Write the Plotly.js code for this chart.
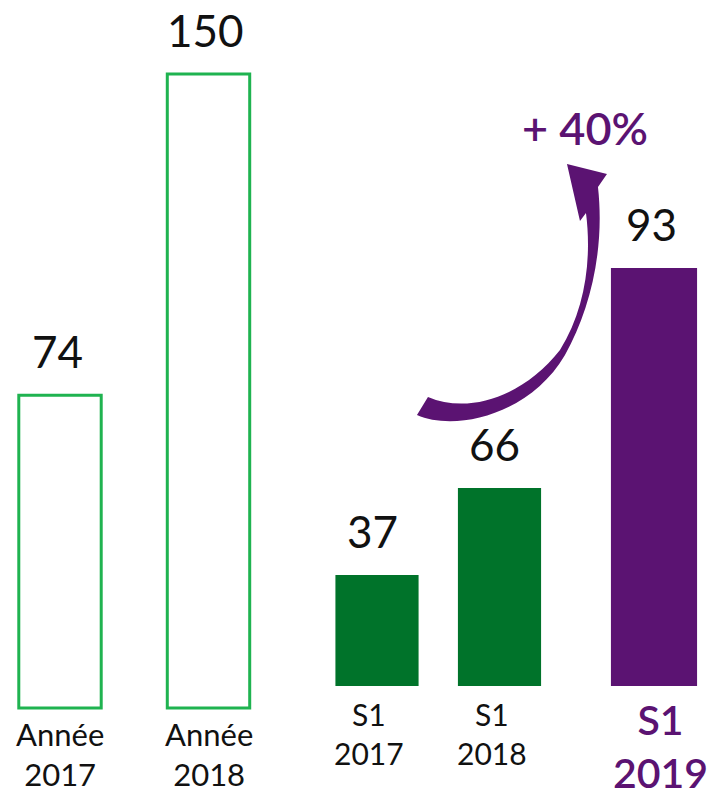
<!DOCTYPE html>
<html>
<head>
<meta charset="utf-8">
<script src="https://cdn.plot.ly/plotly-3.0.1.min.js"></script>
<style>
  html, body { margin: 0; padding: 0; background: #ffffff; }
  #chart { width: 714px; height: 796px; }
</style>
</head>
<body>
<div id="chart"></div>
<script>
// ---- data ----
const annualCats = ['Année 2017', 'Année 2018'];
const annualValues = [74, 150];
const halfCats = ['S1 2017', 'S1 2018'];
const halfValues = [37, 66];
const highlightCats = ['S1 2019'];
const highlightValues = [93];
const growthLabel = '+ 40%';

// ---- styling / layout ----
const W = 714, H = 796;
const FONT = 'Lato, "Open Sans", sans-serif';
const GREEN_LINE = '#1fb350';
const GREEN_DARK = '#00732a';
const PURPLE = '#5b1372';
const allCats = annualCats.concat(halfCats, highlightCats);
const UNIT_PX = 148.5;              // pixels per category slot
const HALF_SHIFT_PX = [20, -6];     // small visual nudges of the S1 green bars
const HALF_WIDTH = 0.56;

function rangeFor(zeroPx, pxPerUnit) {
  return [-(H - zeroPx) / pxPerUnit, zeroPx / pxPerUnit];
}

const traces = [
  {
    type: 'bar', x: annualCats, y: annualValues, xaxis: 'x', yaxis: 'y',
    width: 0.555,
    marker: { color: '#ffffff', line: { color: GREEN_LINE, width: 3 } },
    hoverinfo: 'skip'
  },
  {
    type: 'bar', x: halfCats, y: halfValues, xaxis: 'x', yaxis: 'y2',
    width: HALF_WIDTH,
    offset: HALF_SHIFT_PX.map(s => -HALF_WIDTH / 2 + s / UNIT_PX),
    marker: { color: GREEN_DARK, line: { width: 0 } },
    hoverinfo: 'skip'
  },
  {
    type: 'bar', x: highlightCats, y: highlightValues, xaxis: 'x', yaxis: 'y3',
    width: 0.58,
    marker: { color: PURPLE, line: { width: 0 } },
    hoverinfo: 'skip'
  }
];

const annotations = [];
function addValueLabels(cats, vals, yref, shifts) {
  cats.forEach((c, i) => {
    annotations.push({
      x: c, y: vals[i], xref: 'x', yref: yref,
      text: String(vals[i]), showarrow: false,
      xanchor: 'center', yanchor: 'bottom', yshift: 16,
      xshift: shifts ? shifts[i] - 5 : -3,
      font: { family: FONT, size: 44, color: '#111111' }
    });
  });
}
function addCatLabels(cats, yref, size, color, weight, yshift, shifts) {
  cats.forEach((c, i) => {
    annotations.push({
      x: c, y: 0, xref: 'x', yref: yref,
      text: c.replace(' ', '<br>'), showarrow: false,
      xanchor: 'center', yanchor: 'top', yshift: yshift,
      xshift: shifts ? shifts[i] - 8 : 0,
      font: { family: FONT, size: size, color: color, weight: weight }
    });
  });
}
addValueLabels(annualCats, annualValues, 'y', null);
addValueLabels(halfCats, halfValues, 'y2', HALF_SHIFT_PX);
addValueLabels(highlightCats, highlightValues, 'y3', null);
addCatLabels(annualCats, 'y', 31, '#111111', 'normal', -5, null);
addCatLabels(halfCats, 'y2', 30, '#111111', 'normal', -8, HALF_SHIFT_PX);
addCatLabels(highlightCats, 'y3', 41, PURPLE, 600, -7, [14]);

annotations.push({
  x: 585 / W, y: 1 - 128 / H, xref: 'paper', yref: 'paper',
  text: growthLabel, showarrow: false, xanchor: 'center', yanchor: 'middle',
  font: { family: FONT, size: 45, color: PURPLE, weight: 600 }
});

// curved growth arrow (decoration), pixel points -> paper coords
function P(x, y) { return (x / W).toFixed(4) + ',' + (1 - y / H).toFixed(4); }
const arrowPath =
  'M' + P(417, 415) +
  ' C' + P(455, 432) + ' ' + P(530, 415) + ' ' + P(565, 355) +
  ' C' + P(590, 310) + ' ' + P(605, 250) + ' ' + P(598, 187) +
  ' L' + P(607, 174) +
  ' L' + P(567, 164) +
  ' L' + P(580, 221) +
  ' L' + P(586, 213) +
  ' C' + P(592, 260) + ' ' + P(585, 310) + ' ' + P(560, 350) +
  ' C' + P(525, 395) + ' ' + P(470, 415) + ' ' + P(428, 397) + ' Z';

const layout = {
  width: W, height: H,
  margin: { l: 0, r: 0, t: 0, b: 0, pad: 0 },
  paper_bgcolor: '#ffffff', plot_bgcolor: '#ffffff',
  showlegend: false,
  barmode: 'overlay',
  xaxis: {
    type: 'category', categoryorder: 'array', categoryarray: allCats,
    range: [-60 / UNIT_PX, (W - 60) / UNIT_PX],
    visible: false, fixedrange: true
  },
  yaxis: { range: rangeFor(708, 634 / 150), visible: false, fixedrange: true },
  yaxis2: { range: rangeFor(686, 3.0), overlaying: 'y', visible: false, fixedrange: true },
  yaxis3: { range: rangeFor(686, 418 / 93), overlaying: 'y', visible: false, fixedrange: true },
  annotations: annotations,
  shapes: [{
    type: 'path', xref: 'paper', yref: 'paper', path: arrowPath,
    fillcolor: PURPLE, line: { width: 0 }, layer: 'above'
  }]
};

Plotly.newPlot('chart', traces, layout, { displayModeBar: false, staticPlot: true });
</script>
</body>
</html>
